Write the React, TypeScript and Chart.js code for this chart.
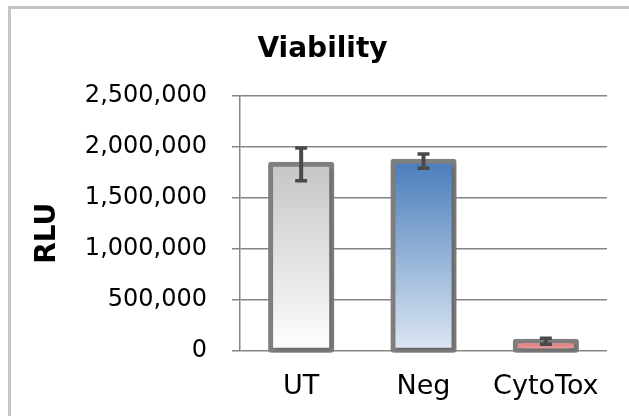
import React, { useEffect, useRef } from 'react';
import { Chart, registerables } from 'chart.js';

Chart.register(...registerables);

// ---- data ----
const categories = ['UT', 'Neg', 'CytoTox'];
const rluValues = [1830000, 1861000, 95000];
const rluErrors = [160000, 70000, 30000];
const yTickValues = [0, 500000, 1000000, 1500000, 2000000, 2500000];

// ---- styles ----
const gradientTops = ['#c6c6c6', '#4a7ebb', '#dc7a7a'];
const gradientBottoms = ['#fefefe', '#dde7f3', '#eda0a0'];
const FONT = "'DejaVu Sans', Verdana, sans-serif";

const barEffects = {
  id: 'barEffects',
  beforeDatasetsDraw(chart: any) {
    const ctx = chart.ctx;
    ctx.save();
    ctx.shadowColor = 'rgba(0,0,0,0.22)';
    ctx.shadowBlur = 4;
    ctx.shadowOffsetX = 2;
    ctx.shadowOffsetY = 2;
  },
  afterDatasetsDraw(chart: any) {
    const ctx = chart.ctx;
    ctx.restore();
    const meta = chart.getDatasetMeta(0);
    const ys = chart.scales.y;
    ctx.save();
    ctx.strokeStyle = '#4a4a4a';
    ctx.lineCap = 'butt';
    meta.data.forEach((bar: any, i: number) => {
      const v = rluValues[i];
      const e = rluErrors[i];
      const yTop = ys.getPixelForValue(v + e);
      const yBot = ys.getPixelForValue(v - e);
      const x = bar.x;
      ctx.lineWidth = 4;
      ctx.beginPath();
      ctx.moveTo(x, yTop);
      ctx.lineTo(x, yBot);
      ctx.stroke();
      ctx.lineWidth = 3.5;
      ctx.beginPath();
      ctx.moveTo(x - 6, yTop);
      ctx.lineTo(x + 6, yTop);
      ctx.moveTo(x - 6, yBot);
      ctx.lineTo(x + 6, yBot);
      ctx.stroke();
    });
    ctx.restore();
  },
};

export default function App() {
  const ref = useRef<HTMLCanvasElement | null>(null);

  useEffect(() => {
    if (!ref.current) return;
    const chart = new Chart(ref.current, {
      type: 'bar',
      data: {
        labels: categories,
        datasets: [
          {
            label: 'RLU',
            data: rluValues,
            clip: false as any,
            backgroundColor: (c: any) => {
              const i = c.dataIndex;
              if (i === undefined) return gradientTops[0];
              const chart = c.chart;
              const ys = chart.scales && chart.scales.y;
              if (!ys || !chart.chartArea) return gradientTops[i];
              const top = ys.getPixelForValue(rluValues[i]);
              const base = ys.getPixelForValue(0);
              if (!isFinite(top) || !isFinite(base) || top === base) return gradientTops[i];
              const g = chart.ctx.createLinearGradient(0, top, 0, base);
              g.addColorStop(0, gradientTops[i]);
              g.addColorStop(1, gradientBottoms[i]);
              return g;
            },
            borderColor: '#7f7f7f',
            borderWidth: 5,
            borderSkipped: false,
            borderRadius: 3,
            inflateAmount: 2.5,
            barPercentage: 0.5,
            categoryPercentage: 1,
          } as any,
        ],
      },
      options: {
        animation: false,
        responsive: false,
        devicePixelRatio: 1,
        layout: { padding: { left: 0, top: 0, right: 0, bottom: 0 } },
        plugins: {
          legend: { display: false },
          tooltip: { enabled: false },
          title: {
            display: true,
            text: 'Viability',
            color: '#000',
            font: { family: FONT, size: 28, weight: 'bold' },
            padding: { top: 32.5, bottom: 29.9 },
          },
        },
        scales: {
          x: {
            afterFit: (s: any) => {
              s.height = 65;
            },
            grid: { display: false, drawTicks: false },
            border: { display: false },
            ticks: { color: '#000', font: { family: FONT, size: 27 }, padding: 20 },
          },
          y: {
            min: 0,
            max: 2500000,
            afterFit: (s: any) => {
              s.width = 240;
            },
            afterBuildTicks: (s: any) => {
              s.ticks = yTickValues.map((v) => ({ value: v }));
            },
            ticks: {
              color: '#000',
              font: { family: FONT, size: 24 },
              padding: 25,
              callback: (v: any) => Number(v).toLocaleString('en-US'),
            },
            grid: { color: '#858585', lineWidth: 1.5, tickLength: 8, drawTicks: true },
            border: { display: true, color: '#858585', width: 1.5 },
            title: {
              display: true,
              text: 'RLU\u00a0\u00a0',
              color: '#000',
              font: { family: FONT, size: 28, weight: 'bold' },
              padding: { top: 31, bottom: 0 },
            },
          },
          rightSpace: {
            type: 'linear',
            position: 'right',
            min: 0,
            max: 1,
            afterFit: (s: any) => {
              s.width = 38;
            },
            grid: { display: false, drawTicks: false },
            border: { display: false },
            ticks: { display: false },
          },
        },
      } as any,
      plugins: [barEffects],
    });
    return () => chart.destroy();
  }, []);

  return (
    <div
      style={{
        position: 'fixed',
        left: 0,
        top: 0,
        width: 629,
        height: 416,
        overflow: 'hidden',
        background: '#fff',
      }}
    >
      <div
        style={{
          position: 'absolute',
          left: 8,
          top: 6,
          width: 1000,
          height: 1000,
          border: '3px solid #c4c4c4',
          boxSizing: 'border-box',
        }}
      />
      <canvas
        ref={ref}
        width={645}
        height={416}
        style={{ position: 'absolute', left: 0, top: 0, width: 645, height: 416 }}
      />
    </div>
  );
}
